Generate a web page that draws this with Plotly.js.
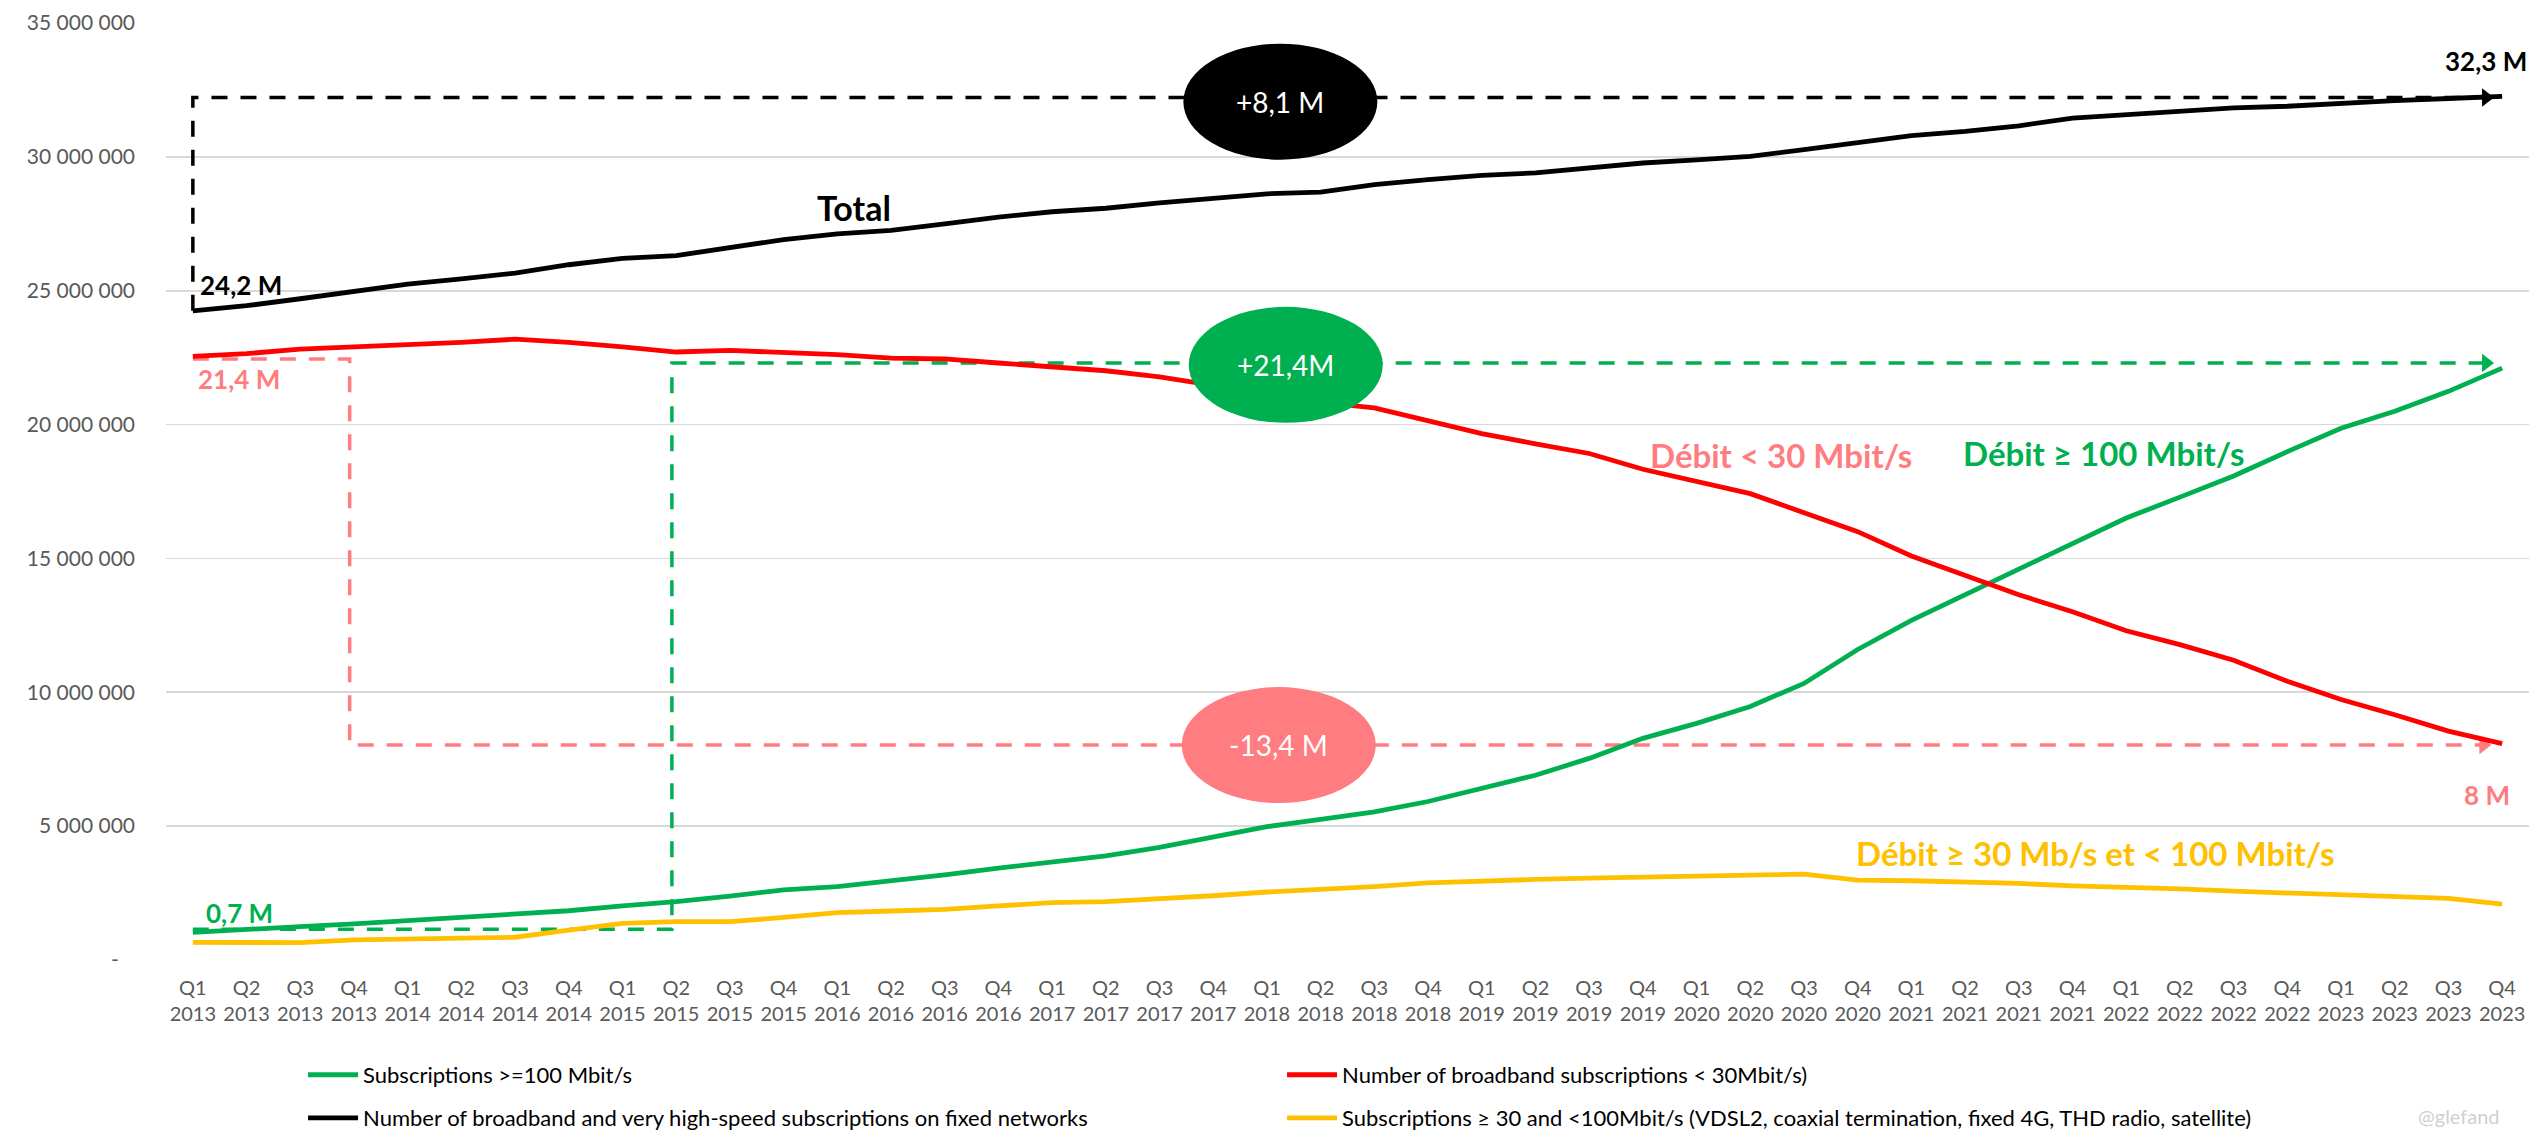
<!DOCTYPE html>
<html>
<head>
<meta charset="utf-8">
<script src="https://cdn.plot.ly/plotly-3.0.1.min.js"></script>
<style>
html, body { margin: 0; padding: 0; background: #ffffff; }
#chart { width: 2542px; height: 1130px; }
</style>
</head>
<body>
<div id="chart"></div>
<script>
// ---------- DATA ----------
const quarters = [
  "Q1 2013","Q2 2013","Q3 2013","Q4 2013",
  "Q1 2014","Q2 2014","Q3 2014","Q4 2014",
  "Q1 2015","Q2 2015","Q3 2015","Q4 2015",
  "Q1 2016","Q2 2016","Q3 2016","Q4 2016",
  "Q1 2017","Q2 2017","Q3 2017","Q4 2017",
  "Q1 2018","Q2 2018","Q3 2018","Q4 2018",
  "Q1 2019","Q2 2019","Q3 2019","Q4 2019",
  "Q1 2020","Q2 2020","Q3 2020","Q4 2020",
  "Q1 2021","Q2 2021","Q3 2021","Q4 2021",
  "Q1 2022","Q2 2022","Q3 2022","Q4 2022",
  "Q1 2023","Q2 2023","Q3 2023","Q4 2023"
];

// Subscriptions >= 100 Mbit/s
const subs100 = [
  1030000, 1120000, 1250000, 1350000, 1470000, 1560000, 1680000, 1840000,
  2020000, 2180000, 2390000, 2620000, 2740000, 2950000, 3180000, 3430000,
  3670000, 3890000, 4210000, 4590000, 4980000, 5250000, 5530000, 5920000,
  6400000, 6900000, 7530000, 8280000, 8840000, 9470000, 10330000, 11600000,
  12690000, 13640000, 14590000, 15560000, 16510000, 17290000, 18080000, 18990000,
  19860000, 20500000, 21240000, 22110000
];

// Number of broadband subscriptions < 30 Mbit/s
const subsBelow30 = [
  22550000, 22650000, 22820000, 22900000, 23020000, 23070000, 23190000, 23070000,
  22900000, 22710000, 22770000, 22700000, 22610000, 22480000, 22450000, 22300000,
  22150000, 22010000, 21780000, 21470000, 21120000, 20830000, 20620000, 20120000,
  19660000, 19280000, 18920000, 18330000, 17890000, 17420000, 16710000, 16000000,
  15090000, 14350000, 13640000, 13010000, 12300000, 11780000, 11200000, 10410000,
  9730000, 9160000, 8550000, 8080000
];

// Total broadband and very high-speed subscriptions on fixed networks
const subsTotal = [
  24250000, 24440000, 24700000, 24970000, 25250000, 25440000, 25660000, 25970000,
  26210000, 26310000, 26620000, 26910000, 27120000, 27250000, 27500000, 27750000,
  27950000, 28080000, 28280000, 28460000, 28620000, 28680000, 28960000, 29150000,
  29310000, 29400000, 29580000, 29770000, 29890000, 30020000, 30270000, 30540000,
  30790000, 30950000, 31160000, 31450000, 31580000, 31700000, 31830000, 31890000,
  32010000, 32100000, 32180000, 32260000
];

// Subscriptions >= 30 and < 100 Mbit/s
const subs30to100 = [
  660000, 660000, 650000, 750000, 770000, 810000, 850000, 1120000,
  1370000, 1430000, 1430000, 1590000, 1770000, 1830000, 1890000, 2020000,
  2140000, 2180000, 2280000, 2400000, 2540000, 2620000, 2740000, 2880000,
  2960000, 3010000, 3060000, 3110000, 3140000, 3170000, 3210000, 2980000,
  2960000, 2930000, 2860000, 2770000, 2730000, 2660000, 2570000, 2510000,
  2440000, 2380000, 2300000, 2090000
];

const yTickValues = [0, 5000000, 10000000, 15000000, 20000000, 25000000, 30000000, 35000000];
const yTickLabels = ["-\u00a0\u00a0\u00a0", "5 000 000", "10 000 000", "15 000 000", "20 000 000", "25 000 000", "30 000 000", "35 000 000"];

const seriesNames = [
  "Subscriptions >=100 Mbit/s",
  "Number of broadband subscriptions &lt; 30Mbit/s)",
  "Number of broadband and very high-speed subscriptions on fixed networks",
  "Subscriptions ≥ 30 and &lt;100Mbit/s (VDSL2, coaxial termination, fixed 4G, THD radio, satellite)"
];

// Connector (evolution) paths: category index / value
const totalGapX = [0, 0, 42.7];
const totalGapY = [24250000, 32220000, 32220000];
const fastGapX = [0, 8.92, 8.92, 42.7];
const fastGapY = [1150000, 1150000, 22300000, 22300000];
const slowGapX = [0, 2.92, 2.92, 42.65];
const slowGapY = [22450000, 22450000, 8030000, 8030000];

// Callout bubbles
const calloutText = ["+8,1 M", "+21,4M", "-13,4 M"];
const calloutX = [20.25, 20.35, 20.22];
const calloutY = [32060000, 22230000, 8030000];

// Value labels
const labelText = ["24,2 M", "32,3 M", "21,4 M", "8 M", "0,7 M", "22,1 M", "Total",
  "Débit &lt; 30 Mbit/s", "Débit ≥ 100 Mbit/s", "Débit ≥ 30 Mb/s et &lt; 100 Mbit/s"];
const labelX = [0.09, 43.5, 0.05, 42.72, 0.2, 43.65, 12.31, 29.57, 35.58, 35.41];
const labelY = [25220000, 33570000, 21710000, 6170000, 1760000, 20440000, 28100000, 18870000, 18950000, 4000000];

// ---------- STYLE ----------
const GREEN = "#00B050", RED = "#FF0000", BLACK = "#000000", YELLOW = "#FFC000", PINK = "#FF7C80";
const FONT = "Lato, 'Open Sans', sans-serif";
const idx = quarters.map((q, i) => i);
const tickText = quarters.map(q => q.replace(" ", "<br>"));

function connector(xs, ys, color) {
  return [{
    x: xs, y: ys, type: "scatter", mode: "lines",
    line: { color: color, width: 3.5, dash: "16px,13px" },
    showlegend: false, hoverinfo: "skip"
  }];
}
function arrowHead(xs, ys, color) {
  return {
    x: [xs[xs.length - 1]], y: [ys[ys.length - 1]], type: "scatter", mode: "markers",
    marker: { symbol: "triangle-right", size: 16, color: color },
    showlegend: false, hoverinfo: "skip"
  };
}

const traces = [
  ...connector(totalGapX, totalGapY, BLACK),
  ...connector(fastGapX, fastGapY, GREEN),
  ...connector(slowGapX, slowGapY, PINK),
  arrowHead(totalGapX, totalGapY, BLACK),
  arrowHead(fastGapX, fastGapY, GREEN),
  arrowHead(slowGapX, slowGapY, PINK),
  { x: idx, y: subs100, name: seriesNames[0], type: "scatter", mode: "lines",
    line: { color: GREEN, width: 4.8 }, legend: "legend" },
  { x: idx, y: subsBelow30, name: seriesNames[1], type: "scatter", mode: "lines",
    line: { color: RED, width: 4.8 }, legend: "legend" },
  { x: idx, y: subsTotal, name: seriesNames[2], type: "scatter", mode: "lines",
    line: { color: BLACK, width: 4.8 }, legend: "legend2" },
  { x: idx, y: subs30to100, name: seriesNames[3], type: "scatter", mode: "lines",
    line: { color: YELLOW, width: 4.8 }, legend: "legend2" }
];

const calloutColors = [BLACK, GREEN, PINK];
const shapes = calloutText.map((t, i) => ({
  type: "circle", layer: "above",
  xref: "x", yref: "y",
  xsizemode: "pixel", xanchor: calloutX[i], x0: -97, x1: 97,
  ysizemode: "pixel", yanchor: calloutY[i], y0: -58, y1: 58,
  fillcolor: calloutColors[i], line: { width: 0 }
}));

const labelColors = [BLACK, BLACK, PINK, PINK, GREEN, GREEN, BLACK, PINK, GREEN, YELLOW];
const labelAnchors = ["left", "right", "left", "center", "left", "right", "center", "center", "center", "center"];
const labelSizes = [26, 26, 26, 26, 26, 26, 34, 33, 33, 33];
const annotations = labelText.map((t, i) => ({
  text: "<b>" + t + "</b>", x: labelX[i], y: labelY[i], xref: "x", yref: "y",
  xanchor: labelAnchors[i], yanchor: "middle", showarrow: false,
  font: { family: FONT, size: labelSizes[i], color: labelColors[i] }
})).concat(calloutText.map((t, i) => ({
  text: t, x: calloutX[i], y: calloutY[i], xref: "x", yref: "y",
  xanchor: "center", yanchor: "middle", showarrow: false,
  font: { family: FONT, size: 28, color: "#FFFFFF" }
}))).concat([{
  text: "@glefand", xref: "paper", yref: "paper", x: 0.952, y: -0.1815,
  xanchor: "left", yanchor: "bottom", showarrow: false,
  font: { family: FONT, size: 20, color: "#D0D0D0" }
}]);

const legendBase = {
  orientation: "h", xanchor: "left", yanchor: "middle",
  entrywidth: 914, entrywidthmode: "pixels", itemwidth: 50,
  bgcolor: "rgba(0,0,0,0)", borderwidth: 0,
  font: { family: FONT, size: 22, color: "#000000" }
};

const layout = {
  width: 2542, height: 1130,
  margin: { l: 166, r: 13, t: 23, b: 170, autoexpand: false },
  paper_bgcolor: "#ffffff", plot_bgcolor: "#ffffff",
  font: { family: FONT, color: "#595959" },
  hovermode: false,
  xaxis: {
    range: [-0.5, 43.5], tickmode: "array", tickvals: idx, ticktext: tickText,
    showgrid: false, zeroline: false, showline: false, ticks: "",
    ticklabelstandoff: 14,
    tickfont: { family: FONT, size: 20, color: "#595959" }
  },
  yaxis: {
    range: [0, 35000000], tickmode: "array", tickvals: yTickValues, ticktext: yTickLabels,
    showgrid: true, gridcolor: "#D9D9D9", gridwidth: 1.8, zeroline: false, showline: false,
    ticks: "", ticklabelstandoff: 30,
    tickfont: { family: FONT, size: 21, color: "#595959" }
  },
  legend: Object.assign({}, legendBase, { x: 0.058, y: -0.1227 }),
  legend2: Object.assign({}, legendBase, { x: 0.058, y: -0.1686 }),
  shapes: shapes,
  annotations: annotations
};

Plotly.newPlot("chart", traces, layout, { displayModeBar: false, staticPlot: true });
</script>
</body>
</html>
